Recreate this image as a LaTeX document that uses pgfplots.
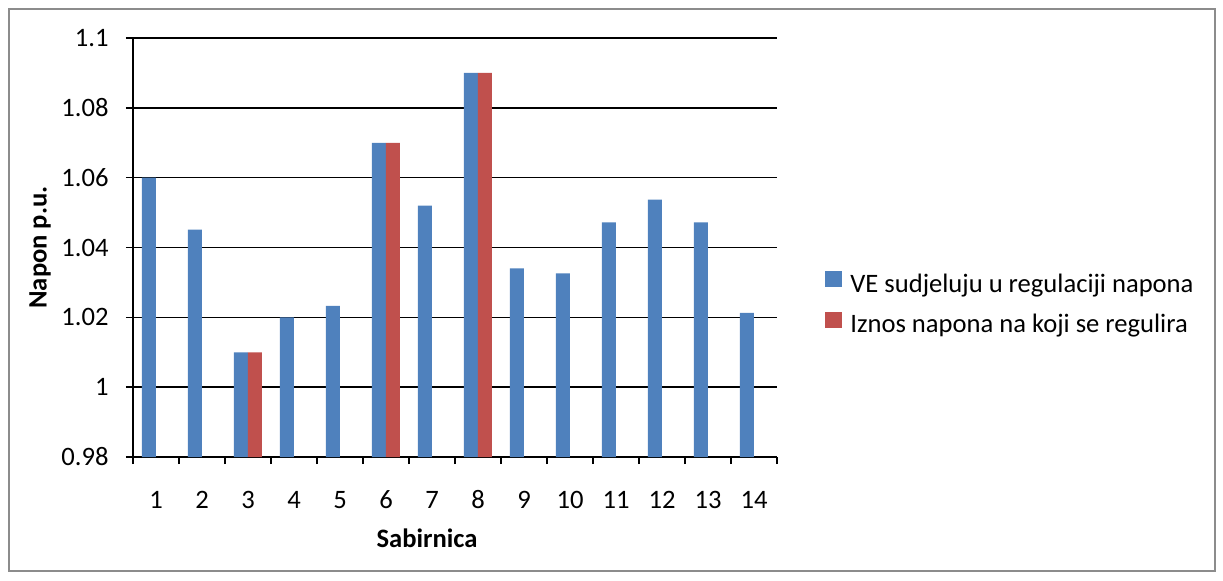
\documentclass[border=0pt]{standalone}
\usepackage{fontspec}
\setmainfont{Carlito}
\usepackage{pgfplots}
\pgfplotsset{compat=1.18}
\definecolor{vblue}{HTML}{4F81BD}
\definecolor{vred}{HTML}{C0504D}
\begin{document}
\fontsize{13.3pt}{16pt}\selectfont
\begin{tikzpicture}
\path[use as bounding box] (-66.5pt,-61.5pt) rectangle (545pt,228.5pt);
\draw[black!45, line width=0.6pt] (-62pt,-57pt) rectangle (541pt,224pt);
\begin{axis}[
  at={(0pt,0pt)}, anchor=south west,
  scale only axis, width=322pt, height=209.5pt,
  xmin=0.5, xmax=14.5, ymin=0.98, ymax=1.1,
  ybar=0pt, bar width=7pt,
  axis lines*=left,
  axis line style={black, line width=0.7pt},
  ytick={0.98,1,1.02,1.04,1.06,1.08,1.1},
  yticklabels={0.98,1,1.02,1.04,1.06,1.08,1.1},
  xtick={1,2,3,4,5,6,7,8,9,10,11,12,13,14},
  xticklabels={1,2,3,4,5,6,7,8,9,10,11,12,13,14},
  minor xtick={0.5,1.5,2.5,3.5,4.5,5.5,6.5,7.5,8.5,9.5,10.5,11.5,12.5,13.5,14.5},
  major x tick style={draw=none},
  tick align=outside,
  major tick length=3.5pt, minor tick length=3.5pt,
  tick style={black, line width=0.7pt},
  ymajorgrids,
  grid style={black, line width=0.7pt},
  xticklabel style={anchor=north, inner sep=0pt, text height=8.5pt, text depth=0pt, yshift=-13.75pt},
  yticklabel style={anchor=east, inner sep=0pt, xshift=-8.5pt},
  xlabel={\bfseries Sabirnica},
  xlabel style={at={(axis description cs:0.4565,0)}, anchor=center, yshift=-40.5pt},
  ylabel={\bfseries Napon p.u.},
  ylabel style={at={(axis description cs:0,0.5)}, anchor=center, yshift=46.5pt},
  legend cell align=left,
  legend style={at={(axis description cs:1.0745,0.4445)}, anchor=north west,
    draw=none, fill=none, inner sep=0pt,
    /tikz/column sep=4pt, /tikz/row sep=7.3pt,
    nodes={inner sep=0pt, text height=8.6pt, text depth=2.6pt}},
]
\addplot[fill=vblue, draw=none,
  legend image code/.code={\fill[vblue] (0pt,-0.5pt) rectangle (8.5pt,7.5pt);}]
  coordinates {(1,1.06) (2,1.0451) (3,1.01) (4,1.02) (5,1.0233) (6,1.07) (7,1.052)
    (8,1.09) (9,1.034) (10,1.0326) (11,1.0472) (12,1.0537) (13,1.0472) (14,1.0213)};
\addlegendentry{VE sudjeluju u regulaciji napona}
\addplot[fill=vred, draw=none,
  legend image code/.code={\fill[vred] (0pt,-0.5pt) rectangle (8.5pt,7.5pt);}]
  coordinates {(3,1.01) (6,1.07) (8,1.09)};
\addlegendentry{Iznos napona na koji se regulira}
\end{axis}
\end{tikzpicture}
\end{document}
